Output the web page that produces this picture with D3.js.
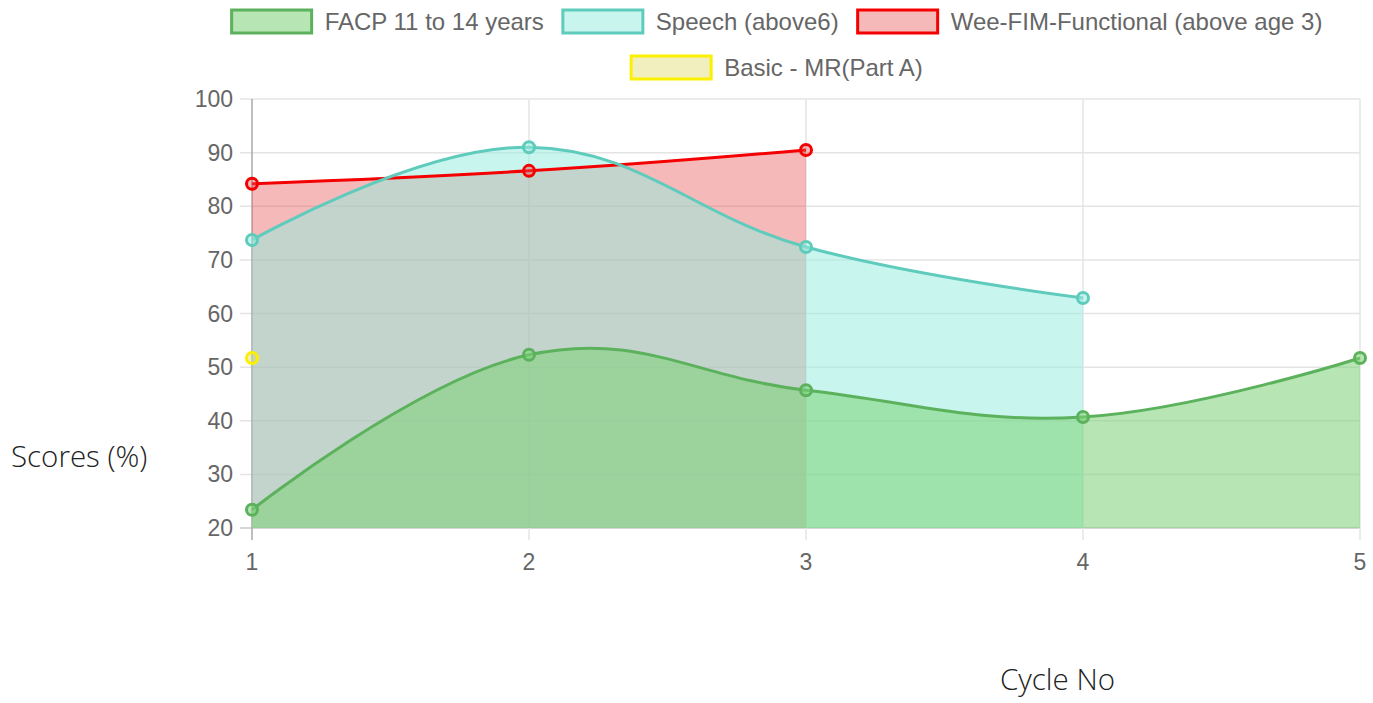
<!DOCTYPE html>
<html lang="en">
<head>
    <meta charset="UTF-8">
    <title>Scores by Cycle</title>
    <script src="https://d3js.org/d3.v7.min.js"></script>
    <style>
        body { margin: 0; background: #fff; }
        .tick-label { font-family: "Liberation Sans", Arial, sans-serif; font-size: 23px; fill: #666; }
        .legend-label { font-family: "Liberation Sans", Arial, sans-serif; font-size: 24px; fill: #666; }
        .axis-title { font-family: "Open Sans", sans-serif; font-weight: 300; font-size: 29.5px; fill: #222; }
    </style>
</head>
<body>
<div id="chart"></div>
<script>
    // chart values
    const cycles = [1, 2, 3, 4, 5];
    const yTicks = [20, 30, 40, 50, 60, 70, 80, 90, 100];
    const seriesNames = ["FACP 11 to 14 years", "Speech (above6)", "Wee-FIM-Functional (above age 3)", "Basic - MR(Part A)"];
    const facp = [23.4, 52.3, 45.7, 40.7, 51.7];
    const speech = [73.7, 91, 72.4, 62.9];
    const weeFim = [84.2, 86.6, 90.5];
    const basicMr = [51.7];

    const styles = [
        { line: "rgb(92,178,92)", fill: "rgba(124,209,119,0.55)" },
        { line: "rgb(95,203,188)", fill: "rgba(151,236,223,0.53)" },
        { line: "rgb(245,0,0)", fill: "rgba(230,80,80,0.4)" },
        { line: "rgb(250,240,0)", fill: "rgba(225,220,110,0.45)" }
    ];

    const datasets = [facp, speech, weeFim, basicMr].map((vals, i) => ({
        name: seriesNames[i],
        style: styles[i],
        points: vals.map((v, j) => ({ x: cycles[j], y: v }))
    }));

    const W = 1373, H = 703;
    const plot = { left: 252, right: 1360, top: 99, bottom: 528 };

    const svg = d3.select("#chart").append("svg")
        .attr("width", W)
        .attr("height", H);

    const x = d3.scaleLinear().domain([1, 5]).range([plot.left, plot.right]);
    const y = d3.scaleLinear().domain([20, 100]).range([plot.bottom, plot.top]);

    // grid
    const grid = svg.append("g");
    grid.selectAll(".hgrid").data(yTicks).enter().append("line")
        .attr("x1", plot.left - 12).attr("x2", plot.right)
        .attr("y1", d => y(d)).attr("y2", d => y(d))
        .attr("stroke", d => d === 20 ? "#c8c8c8" : "#e4e4e4")
        .attr("stroke-width", 1.5);
    grid.selectAll(".vgrid").data(cycles).enter().append("line")
        .attr("x1", d => x(d)).attr("x2", d => x(d))
        .attr("y1", plot.top).attr("y2", plot.bottom + 12)
        .attr("stroke", d => d === 1 ? "#a8a8a8" : "#e4e4e4")
        .attr("stroke-width", 1.5);

    // tick labels
    svg.append("g").selectAll("text").data(yTicks).enter().append("text")
        .attr("class", "tick-label")
        .attr("x", plot.left - 19)
        .attr("y", d => y(d))
        .attr("dy", "0.35em")
        .attr("text-anchor", "end")
        .text(d => d);
    svg.append("g").selectAll("text").data(cycles).enter().append("text")
        .attr("class", "tick-label")
        .attr("x", d => x(d))
        .attr("y", plot.bottom + 34)
        .attr("dy", "0.35em")
        .attr("text-anchor", "middle")
        .text(d => d);

    // series: all fills first, then lines and points, last dataset at the bottom
    const curve = d3.curveCardinal.tension(-0.2);
    const area = d3.area()
        .x(d => x(d.x)).y0(y(20)).y1(d => y(d.y))
        .curve(curve);
    const line = d3.line()
        .x(d => x(d.x)).y(d => y(d.y))
        .curve(curve);

    const ordered = datasets.slice().reverse();
    const fills = svg.append("g");
    ordered.filter(ds => ds.points.length > 1).forEach(ds => {
        fills.append("path").datum(ds.points)
            .attr("d", area)
            .attr("fill", ds.style.fill);
    });
    ordered.forEach(ds => {
        const g = svg.append("g");
        if (ds.points.length > 1) {
            g.append("path").datum(ds.points)
                .attr("d", line)
                .attr("fill", "none")
                .attr("stroke", ds.style.line)
                .attr("stroke-width", 3);
        }
        g.selectAll("circle").data(ds.points).enter().append("circle")
            .attr("cx", d => x(d.x))
            .attr("cy", d => y(d.y))
            .attr("r", 5.5)
            .attr("fill", ds.style.fill)
            .attr("stroke", ds.style.line)
            .attr("stroke-width", 3);
    });

    // legend
    const legendRows = [[0, 1, 2], [3]];
    const rowY = [21.5, 67.5];
    const boxW = 80, boxH = 23, textGap = 13, itemGap = 19, centerX = 777;
    legendRows.forEach((row, r) => {
        const lg = svg.append("g");
        let widths = [];
        const items = row.map(i => {
            const it = lg.append("g");
            it.append("rect")
                .attr("width", boxW).attr("height", boxH)
                .attr("y", rowY[r] - boxH / 2)
                .attr("fill", styles[i].fill)
                .attr("stroke", styles[i].line)
                .attr("stroke-width", 3);
            const t = it.append("text")
                .attr("class", "legend-label")
                .attr("x", boxW + textGap)
                .attr("y", rowY[r])
                .attr("dy", "0.35em")
                .text(seriesNames[i]);
            widths.push(boxW + textGap + t.node().getComputedTextLength());
            return it;
        });
        const total = d3.sum(widths) + itemGap * (widths.length - 1);
        let cx = centerX - total / 2;
        items.forEach((it, k) => {
            it.attr("transform", `translate(${cx},0)`);
            cx += widths[k] + itemGap;
        });
    });

    // axis titles
    svg.append("text").attr("class", "axis-title")
        .attr("x", 11).attr("y", 467)
        .text("Scores (%)");
    svg.append("text").attr("class", "axis-title")
        .attr("x", 1000).attr("y", 690)
        .text("Cycle No");
</script>
</body>
</html>
